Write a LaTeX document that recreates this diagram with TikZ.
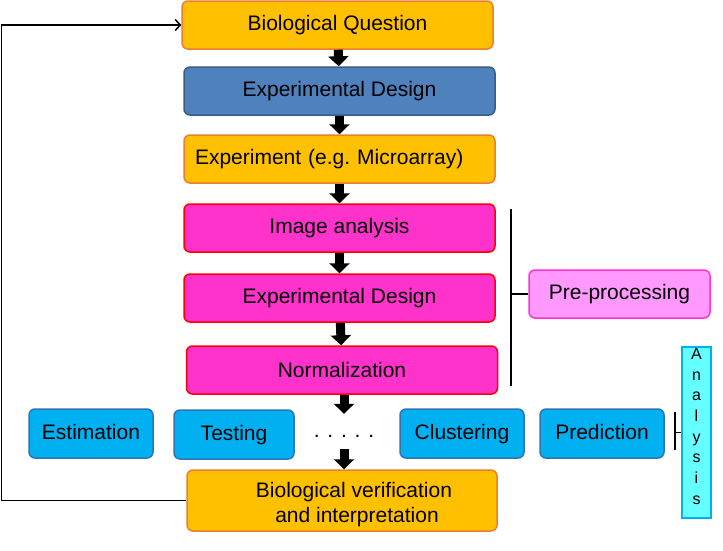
\documentclass[tikz,border=0pt]{standalone}
\usepackage{fontspec}
\setmainfont{Liberation Sans}
\usetikzlibrary{positioning,calc}
\usetikzlibrary{arrows.meta}

\definecolor{qorange}{HTML}{FFC000}
\definecolor{qorangeline}{HTML}{ED7D31}
\definecolor{qblue}{HTML}{4F81BD}
\definecolor{qblueline}{HTML}{385D8A}
\definecolor{qpink}{HTML}{FF33CC}
\definecolor{qred}{HTML}{FF0000}
\definecolor{qcyan}{HTML}{00B0F0}
\definecolor{qcyanline}{HTML}{2E75B6}
\definecolor{qlilac}{HTML}{FF99FF}
\definecolor{qaqua}{HTML}{66FFFF}

\tikzset{
   stagebox/.style={draw, rounded corners=6pt, line width=1.5pt,
      minimum width=311pt, minimum height=48pt, inner sep=0pt,
      font=\fontsize{21}{25}\selectfont},
   orangebox/.style={stagebox, fill=qorange, draw=qorangeline},
   bluebox/.style={stagebox, fill=qblue, draw=qblueline},
   pinkbox/.style={stagebox, fill=qpink, draw=qred},
   methodbox/.style={stagebox, fill=qcyan, draw=qcyanline,
      minimum width=124pt, minimum height=49pt, text height=15pt, text depth=4pt},
   blockarrow/.style={line width=9pt, -{Triangle[width=20pt,length=10pt]}},
   feedback/.style={line width=1.5pt, -{Straight Barb[length=5pt,width=11pt]}},
   bracket/.style={line width=1.2pt}
}

\begin{document}
\begin{tikzpicture}[x=1pt,y=-1pt]
   \useasboundingbox (0,0) rectangle (723,550);

   % main column
   \node[orangebox] (question) at (337.5,25) {Biological Question};
   \node[bluebox, below=16.5pt of question, xshift=2pt] (design) {Experimental Design};
   \node[orangebox, below=18.5pt of design, text width=289pt, align=left,
      inner xsep=11pt] (expt) {Experiment (e.g.\ Microarray)};
   \node[pinkbox, below=19.5pt of expt] (image) {Image analysis};
   \node[pinkbox, below=20.5pt of image] (design2) {Experimental Design};
   \node[pinkbox, below=22.5pt of design2, xshift=2.5pt] (norm) {Normalization};

   % analysis row
   \node[methodbox] (estim) at (91,433.5) {Estimation};
   \node[methodbox, minimum width=120pt] (testing) at (234,434.5) {Testing};
   \node[font=\fontsize{21}{25}\selectfont, minimum height=35pt, inner sep=0pt,
      text height=12pt, text depth=0pt] (dots) at (344,431.5) {. . . . .};
   \node[methodbox] (cluster) at (462,433.5) {Clustering};
   \node[methodbox] (predict) at (602,433.5) {Prediction};

   \node[orangebox, minimum height=61pt, align=center, minimum width=310pt]
      (verify) at (342,500.5)
      {\rule{0pt}{23pt}\hspace*{24pt}Biological verification\\\hspace*{30pt}and interpretation};

   % side labels
   \node[stagebox, fill=qlilac, draw=qpink, minimum width=181pt] (pre)
      at (619.5,294) {Pre-processing};
   \node[draw=qcyan, fill=qaqua, line width=1.5pt, minimum width=29pt,
      minimum height=171pt, inner sep=0pt] (analysis) at (696.5,432.5) {};
   \node[align=center, inner sep=0pt, font=\fontsize{16}{20.7}\selectfont]
      (analysistext) at ([yshift=6pt]analysis.center) {A\\n\\a\\l\\y\\s\\i\\s};

   \coordinate (pretop) at (511,209);
   \coordinate (prebot) at (511,386);
   \coordinate (antop) at (675,412);
   \coordinate (anbot) at (675,450);
   \coordinate[left=185pt of verify.west] (back);

   % block arrows
   \draw[blockarrow] (question) -- (design);
   \draw[blockarrow] (design) -- (expt);
   \draw[blockarrow] (expt) -- (image);
   \draw[blockarrow] (image) -- (design2);
   \draw[blockarrow] (design2) -- (norm);
   \draw[blockarrow] (norm.south -| dots) -- (dots.north);
   \draw[blockarrow] (dots.south) -- (dots |- verify.north);

   % brackets
   \draw[bracket] (pretop) -- (prebot);
   \draw[bracket] (pretop |- pre.west) -- (pre.west);
   \draw[bracket] (antop) -- (anbot);
   \draw[bracket] (antop |- analysis.west) -- (analysis.west);

   % loop back
   \draw[feedback] (verify.west) -- (back) |- (question.west);
\end{tikzpicture}
\end{document}
